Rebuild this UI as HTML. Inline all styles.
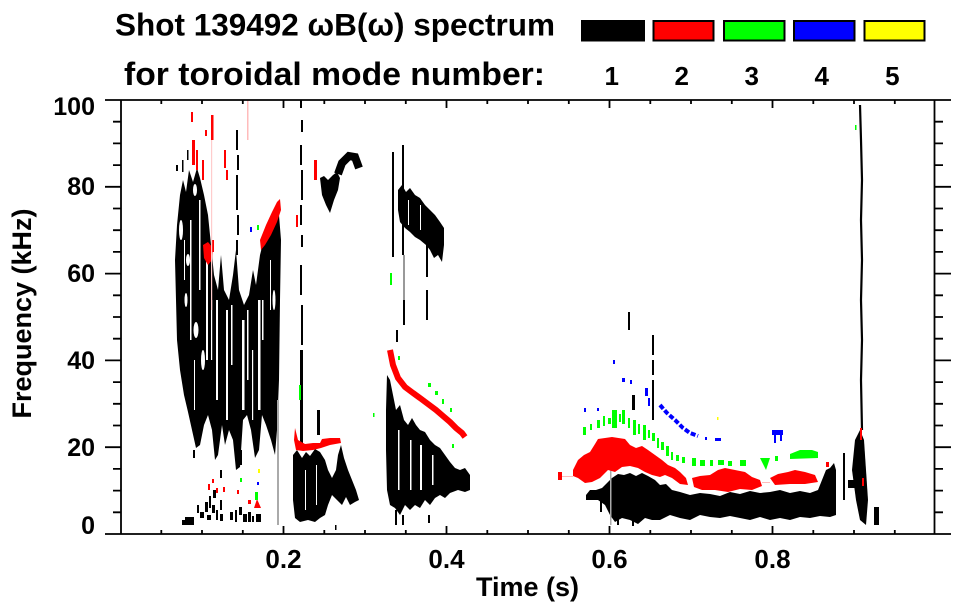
<!DOCTYPE html>
<html><head><meta charset="utf-8"><style>
html,body{margin:0;padding:0;background:#fff;}
svg{display:block;}
text{font-family:"Liberation Sans",Arial,sans-serif;font-weight:bold;fill:#000;}
</style></head><body>
<svg width="963" height="615" viewBox="0 0 963 615" xmlns="http://www.w3.org/2000/svg">
<rect width="963" height="615" fill="#fff"/>

<!-- Title -->
<text x="115" y="35.5" font-size="31.5" textLength="440" lengthAdjust="spacingAndGlyphs">Shot 139492 ωB(ω) spectrum</text>
<text x="124" y="85" font-size="32.5" textLength="421" lengthAdjust="spacingAndGlyphs">for toroidal mode number:</text>

<!-- Legend -->
<rect x="582" y="21" width="62" height="19.5" fill="#000" stroke="#000" stroke-width="2"/>
<rect x="653.5" y="21" width="60" height="19.5" fill="#f00" stroke="#000" stroke-width="2"/>
<rect x="724" y="21" width="60.5" height="19.5" fill="#0f0" stroke="#000" stroke-width="2"/>
<rect x="794" y="21" width="60.5" height="19.5" fill="#00f" stroke="#000" stroke-width="2"/>
<rect x="864.5" y="21" width="60" height="19.5" fill="#ff0" stroke="#000" stroke-width="2"/>
<g font-size="26" text-anchor="middle">
<text x="611.7" y="85">1</text>
<text x="681.7" y="85">2</text>
<text x="751.7" y="85">3</text>
<text x="821.7" y="85">4</text>
<text x="892.3" y="85">5</text>
</g>

<!-- ===== DATA ===== -->
<g>
<!-- Region A main mass -->
<polygon fill="#000" points="176,300 175,260 177,225 180,195 183,180 186,192 189,170 193,182 197,168 200,178 204,195 208,215 211,245 214,275 218,290 221,255 224,290 229,300 233,275 236,250 239,290 244,305 249,295 253,270 256,285 260,255 265,235 270,228 275,220 279,215 281,240 280,300 279,380 277,430 275,455 271,440 266,425 262,415 259,450 255,458 251,430 247,415 243,420 240,467 236,470 233,440 229,430 225,445 222,425 218,455 215,460 212,430 208,415 204,425 200,445 196,448 192,430 188,412 184,395 180,370 177,340"/>
<g fill="#fff">
<rect x="190" y="220" width="1.5" height="120"/>
<rect x="199" y="200" width="1.5" height="90"/>
<rect x="206" y="260" width="2" height="100"/>
<rect x="216" y="300" width="2" height="100"/>
<rect x="226" y="310" width="2" height="110"/>
<rect x="231" y="305" width="1.5" height="60"/>
<rect x="242" y="320" width="2.5" height="90"/>
<rect x="247" y="310" width="1.5" height="70"/>
<rect x="258" y="300" width="2.5" height="110"/>
<rect x="262" y="300" width="1.5" height="40"/>
<rect x="184" y="240" width="1" height="40"/>
<rect x="211" y="300" width="1.2" height="60"/>
<rect x="252" y="350" width="1.2" height="70"/>
<rect x="270" y="260" width="1" height="50"/>
<rect x="194" y="360" width="1" height="50"/>
<ellipse cx="196" cy="330" rx="2.5" ry="8"/>
<ellipse cx="188" cy="260" rx="2" ry="6"/>
<ellipse cx="203" cy="360" rx="2" ry="10"/>
<ellipse cx="181" cy="230" rx="2" ry="10"/>
<ellipse cx="195" cy="190" rx="2" ry="6"/>
<ellipse cx="186" cy="300" rx="1.5" ry="7"/>
<ellipse cx="274" cy="300" rx="1.5" ry="10"/>
</g>
<!-- Region A scattered -->
<g fill="#000">
<rect x="236" y="130" width="2" height="20"/>
<rect x="237" y="155" width="2" height="15"/>
<rect x="236" y="175" width="2" height="35"/>
<rect x="237" y="215" width="2" height="20"/>
<rect x="236" y="240" width="2" height="15"/>
<rect x="176" y="165" width="2" height="6"/>
<rect x="182" y="160" width="1.5" height="12"/>
<rect x="187" y="150" width="1.5" height="10"/>
<rect x="178" y="335" width="2" height="12"/>
<rect x="185" y="517" width="9" height="8"/>
<rect x="182" y="520" width="4" height="5"/>
<rect x="200" y="512" width="4" height="6"/>
<rect x="205" y="502" width="3" height="10"/>
<rect x="209" y="496" width="2" height="12"/>
<rect x="212" y="505" width="3" height="8"/>
<rect x="216" y="510" width="2" height="10"/>
<rect x="220" y="514" width="3" height="7"/>
<rect x="207" y="515" width="4" height="5"/>
<rect x="230" y="512" width="3" height="8"/>
<rect x="235" y="510" width="2" height="12"/>
<rect x="239" y="507" width="3" height="8"/>
<rect x="243" y="514" width="4" height="8"/>
<rect x="248" y="512" width="3" height="10"/>
<rect x="252" y="516" width="2" height="6"/>
<rect x="256" y="514" width="5" height="8"/>
<rect x="213" y="490" width="3" height="8"/>
<rect x="220" y="500" width="2" height="10"/>
<rect x="197" y="505" width="2" height="8"/>
<rect x="240" y="450" width="2" height="15"/>
<rect x="220" y="470" width="2" height="8"/>
<rect x="193" y="450" width="2" height="8"/>
</g>
<rect x="277" y="400" width="2" height="125" fill="#aaa"/>
<!-- Region A red -->
<g fill="#f00">
<polygon points="260,240 266,225 272,212 277,202 280,199 281,210 277,222 271,235 265,245 261,250"/>
<rect x="191" y="112" width="2" height="10"/>
<rect x="192" y="140" width="3" height="25"/>
<rect x="196" y="150" width="2" height="20"/>
<rect x="211" y="115" width="2.5" height="25"/>
<rect x="202" y="160" width="2" height="20"/>
<rect x="224" y="150" width="2" height="18"/>
<rect x="226" y="170" width="2" height="10"/>
<rect x="205" y="130" width="2" height="6"/>
<rect x="212" y="240" width="2" height="12"/>
<polygon points="203,245 208,242 213,248 212,260 208,265 204,258"/>
<rect x="208" y="484" width="2" height="6"/>
<rect x="212" y="479" width="2" height="4"/>
<rect x="216" y="488" width="2" height="5"/>
<rect x="223" y="487" width="2" height="5"/>
<rect x="237" y="490" width="2" height="4"/>
<polygon points="254,508 257,499 261,508"/>
<rect x="248" y="500" width="3" height="4"/>
</g>
<rect x="247" y="100" width="1.5" height="40" fill="#fbb"/>
<rect x="211" y="140" width="1.2" height="170" fill="#fcc"/>
<rect x="255" y="492" width="3" height="8" fill="#0f0"/>
<rect x="240" y="478" width="2" height="4" fill="#0f0"/>
<rect x="257" y="482" width="2" height="3" fill="#00f"/>
<rect x="258" y="469" width="2" height="4" fill="#ff0"/>
<rect x="257" y="225" width="2" height="5" fill="#0f0"/>
<rect x="250" y="227" width="2" height="5" fill="#00f"/>

<!-- Region B -->
<g fill="#000">
<rect x="300" y="100" width="2" height="8"/>
<rect x="301" y="120" width="2" height="12"/>
<rect x="300" y="145" width="2" height="20"/>
<rect x="301" y="170" width="2" height="30"/>
<rect x="300" y="205" width="2" height="20"/>
<rect x="301" y="235" width="2" height="12"/>
<rect x="300" y="265" width="2" height="30"/>
<rect x="301" y="305" width="2" height="40"/>
<rect x="300" y="350" width="3" height="95"/>
<rect x="317" y="410" width="3" height="25"/>
<polygon points="320,178 324,176 328,180 333,175 337,172 340,178 338,190 334,200 330,213 326,205 322,195"/>
<polyline points="338,174 342,163 349,156 355,157 359,168" fill="none" stroke="#000" stroke-width="8"/>
<polygon points="293,455 297,450 302,458 306,452 310,456 315,449 320,452 325,460 328,470 332,478 336,470 338,455 341,445 344,458 348,470 352,480 356,490 359,500 355,502 350,505 346,497 342,505 337,500 332,495 328,505 325,515 320,518 315,522 308,520 300,522 295,518 293,500"/>
<rect x="335" y="525" width="1.5" height="5"/>
</g>
<g fill="#fff">
<rect x="305" y="470" width="1" height="40"/>
<rect x="316" y="465" width="1" height="40"/>
</g>
<g fill="#f00">
<polygon points="295,428 298,440 305,444 313,443 320,443 322,439 330,438 340,438 341,443 330,445 321,448 313,450 303,451 296,450 294,440"/>
<rect x="314" y="160" width="3" height="20"/>
<rect x="296" y="215" width="2" height="12"/>
</g>
<rect x="299" y="385" width="2" height="15" fill="#0f0"/>

<!-- Region C -->
<g fill="#000">
<polygon points="398,190 402,185 406,192 410,188 415,195 420,198 425,205 430,210 435,215 440,222 444,228 444,245 442,262 438,255 434,258 430,250 426,245 420,240 415,237 410,232 405,228 400,222 398,210"/>
<rect x="392" y="152" width="2" height="105"/>
<rect x="402" y="145" width="2" height="110"/>
<rect x="426" y="227" width="2" height="50"/>
<rect x="426" y="290" width="2" height="30"/>
<rect x="403" y="300" width="2" height="25"/>
<rect x="396" y="330" width="2" height="12"/>
<polygon points="387,375 390,380 393,395 396,410 400,405 404,420 408,425 412,418 416,425 420,430 425,432 430,440 435,445 440,448 445,455 450,462 455,468 460,470 465,468 470,475 470,490 465,492 458,490 450,493 445,498 440,495 435,498 430,505 425,500 420,508 415,505 410,510 405,505 400,515 395,508 390,505 387,490 386,450 386,410"/>
<rect x="395" y="510" width="2" height="15"/>
<rect x="402" y="515" width="2" height="10"/>
<rect x="428" y="515" width="2" height="8"/>
</g>
<g fill="#fff">
<rect x="398" y="430" width="1.5" height="60"/>
<rect x="410" y="440" width="1.5" height="50"/>
<rect x="420" y="445" width="2" height="45"/>
<rect x="432" y="455" width="1.5" height="30"/>
<rect x="408" y="200" width="1" height="25"/>
<rect x="420" y="205" width="1" height="25"/>
</g>
<rect x="403" y="255" width="2" height="45" fill="#999"/>
<polyline points="390,350 393,365 398,378 405,387 413,393 420,398 428,404 436,410 443,416 450,422 456,428 462,433 465,437" fill="none" stroke="#f00" stroke-width="6"/>
<g fill="#0f0">
<rect x="390" y="273" width="2" height="12"/>
<rect x="428" y="383" width="3" height="4"/>
<rect x="435" y="391" width="3" height="4"/>
<rect x="442" y="399" width="2" height="5"/>
<rect x="450" y="408" width="2" height="4"/>
<rect x="398" y="356" width="2" height="4"/>
<rect x="452" y="444" width="2" height="4"/>
<rect x="373" y="413" width="1.5" height="4"/>
</g>

<!-- Region D -->
<g fill="#000">
<rect x="628" y="312" width="2" height="18"/>
<rect x="652" y="335" width="2" height="20"/>
<rect x="652" y="360" width="2" height="15"/>
<rect x="652" y="380" width="2" height="40"/>
<rect x="632" y="395" width="3" height="15"/>
<polygon points="586,495 590,490 596,490 602,488 608,482 612,478 618,474 624,475 630,473 636,476 642,473 648,476 655,480 660,485 666,484 672,490 680,492 690,495 700,493 710,494 720,496 730,492 740,494 750,491 760,493 770,492 780,490 790,493 800,491 810,493 818,490 822,480 826,470 830,468 834,463 836,470 836,515 830,517 820,516 810,518 800,517 790,520 780,518 770,520 760,517 750,520 740,518 730,516 720,518 710,517 700,515 690,520 680,518 670,515 660,520 652,520 645,518 638,524 630,520 622,518 615,522 610,515 605,505 598,500 590,500 586,500"/>
<rect x="617" y="518" width="2" height="7"/>
<rect x="632" y="518" width="2" height="8"/>
<rect x="600" y="500" width="2" height="12"/>
<polygon points="855,440 860,430 864,440 866,470 868,500 866,525 860,520 856,500 852,470"/>
<polyline points="860,105 861,140 862,180 861,220 862,260 861,300 862,340 861,380 862,430" fill="none" stroke="#000" stroke-width="2.2"/>
<rect x="843" y="453" width="2" height="47"/>
<rect x="848" y="480" width="10" height="8"/>
<rect x="874" y="507" width="5" height="18"/>
</g>
<rect x="610" y="470" width="1.5" height="55" fill="#aaa"/>
<!-- red -->
<g fill="#f00">
<rect x="558" y="472" width="4" height="8"/>
<polygon points="573,470 578,460 584,455 590,452 595,444 598,439 612,437 625,439 630,445 636,448 642,446 648,450 655,455 662,460 668,465 675,468 680,472 686,478 688,485 680,484 672,478 665,475 660,477 652,475 645,472 638,468 630,466 622,467 615,472 608,470 600,478 592,482 585,483 578,478 573,476"/>
<polygon points="692,478 700,476 710,475 718,470 725,468 735,470 745,472 752,477 760,480 762,486 752,490 740,489 728,492 715,490 702,490 694,487"/>
<polygon points="770,478 778,474 788,472 795,470 805,472 815,475 818,482 805,484 790,484 775,485"/>
<rect x="860" y="428" width="2" height="12"/>
<rect x="862" y="478" width="2" height="8"/>
<rect x="826" y="462" width="3" height="5"/>
</g>
<rect x="562" y="476" width="11" height="1" fill="#fbb"/>
<rect x="762" y="482" width="8" height="1" fill="#fbb"/>
<!-- green speckles -->
<g fill="#0f0">
<rect x="583" y="427" width="3" height="8"/>
<rect x="590" y="424" width="2" height="6"/>
<rect x="597" y="420" width="3" height="8"/>
<rect x="603" y="416" width="2" height="10"/>
<rect x="608" y="418" width="3" height="6"/>
<rect x="612" y="410" width="5" height="18"/>
<rect x="619" y="414" width="2" height="8"/>
<rect x="622" y="410" width="3" height="14"/>
<rect x="628" y="418" width="2" height="10"/>
<rect x="633" y="420" width="3" height="15"/>
<rect x="638" y="424" width="2" height="10"/>
<rect x="643" y="425" width="3" height="15"/>
<rect x="648" y="430" width="2" height="8"/>
<rect x="652" y="433" width="3" height="8"/>
<rect x="657" y="438" width="2" height="10"/>
<rect x="661" y="442" width="3" height="8"/>
<rect x="666" y="446" width="3" height="10"/>
<rect x="671" y="452" width="2" height="8"/>
<rect x="676" y="455" width="3" height="6"/>
<rect x="682" y="457" width="3" height="6"/>
<rect x="692" y="458" width="4" height="8"/>
<rect x="700" y="460" width="5" height="6"/>
<rect x="710" y="460" width="3" height="6"/>
<rect x="718" y="460" width="6" height="5"/>
<rect x="728" y="461" width="4" height="5"/>
<rect x="740" y="460" width="6" height="6"/>
<polygon points="760,458 770,458 766,470"/>
<rect x="775" y="456" width="3" height="5"/>
<polygon points="790,454 800,450 812,450 818,452 818,458 790,459"/>
</g>
<!-- blue -->
<polyline points="660,405 667,413 675,420 683,428 690,433 698,436" fill="none" stroke="#00f" stroke-width="4" stroke-dasharray="5 2"/>
<g fill="#00f">
<rect x="613" y="360" width="2" height="4"/>
<rect x="622" y="378" width="3" height="4"/>
<rect x="630" y="380" width="2" height="4"/>
<rect x="584" y="408" width="2" height="4"/>
<rect x="597" y="408" width="2" height="3"/>
<rect x="645" y="388" width="3" height="8"/>
<rect x="648" y="398" width="2" height="8"/>
<rect x="772" y="430" width="11" height="5"/>
<rect x="774" y="435" width="2" height="8"/>
<rect x="780" y="435" width="2" height="6"/>
<rect x="705" y="437" width="2" height="3"/>
<rect x="715" y="438" width="6" height="3"/>
</g>
<rect x="717" y="417" width="1.5" height="3" fill="#ff0"/>
<rect x="855" y="125" width="1.5" height="5" fill="#0f0"/>
</g>

<!-- ===== AXES ===== -->
<g stroke="#000" stroke-width="1.8" fill="none">
<line x1="105" y1="100" x2="951" y2="100"/>
<line x1="105" y1="534" x2="951" y2="534"/>
<line x1="121" y1="100" x2="121" y2="534"/>
<line x1="934.5" y1="100" x2="934.5" y2="534"/>
<path d="M105 447.2H121M105 360.4H121M105 273.6H121M105 186.8H121"/>
<path d="M934.5 447.2H951M934.5 360.4H951M934.5 273.6H951M934.5 186.8H951"/>
<path d="M113 121.7H121M113 143.4H121M113 165.1H121M113 208.5H121M113 230.2H121M113 251.9H121M113 295.3H121M113 317H121M113 338.7H121M113 382.1H121M113 403.8H121M113 425.5H121M113 468.9H121M113 490.6H121M113 512.3H121"/>
<path d="M934.5 121.7H943M934.5 143.4H943M934.5 165.1H943M934.5 208.5H943M934.5 230.2H943M934.5 251.9H943M934.5 295.3H943M934.5 317H943M934.5 338.7H943M934.5 382.1H943M934.5 403.8H943M934.5 425.5H943M934.5 468.9H943M934.5 490.6H943M934.5 512.3H943"/>
<path d="M283.5 534V526M446.5 534V526M609.5 534V526M772.5 534V526"/>
<path d="M283.5 100V108M446.5 100V108M609.5 100V108M772.5 100V108"/>
<path d="M161.3 534V530M202 534V530M242.8 534V530M324.3 534V530M365 534V530M405.8 534V530M487.3 534V530M528 534V530M568.8 534V530M650.3 534V530M691 534V530M731.8 534V530M813.3 534V530M854 534V530M894.8 534V530"/>
<path d="M161.3 100V104M202 100V104M242.8 100V104M324.3 100V104M365 100V104M405.8 100V104M487.3 100V104M528 100V104M568.8 100V104M650.3 100V104M691 100V104M731.8 100V104M813.3 100V104M854 100V104M894.8 100V104"/>
</g>

<!-- Tick labels -->
<g font-size="25" text-anchor="end">
<text x="95" y="115">100</text>
<text x="95" y="195">80</text>
<text x="95" y="282">60</text>
<text x="95" y="369">40</text>
<text x="95" y="456">20</text>
<text x="95" y="534">0</text>
</g>
<g font-size="26" text-anchor="middle">
<text x="283.5" y="568">0.2</text>
<text x="446.5" y="568">0.4</text>
<text x="609.5" y="568">0.6</text>
<text x="772.5" y="568">0.8</text>
</g>
<text x="527.5" y="596" font-size="27" text-anchor="middle">Time (s)</text>
<text transform="translate(31,313.5) rotate(-90)" font-size="27" text-anchor="middle">Frequency (kHz)</text>
</svg>
</body></html>
